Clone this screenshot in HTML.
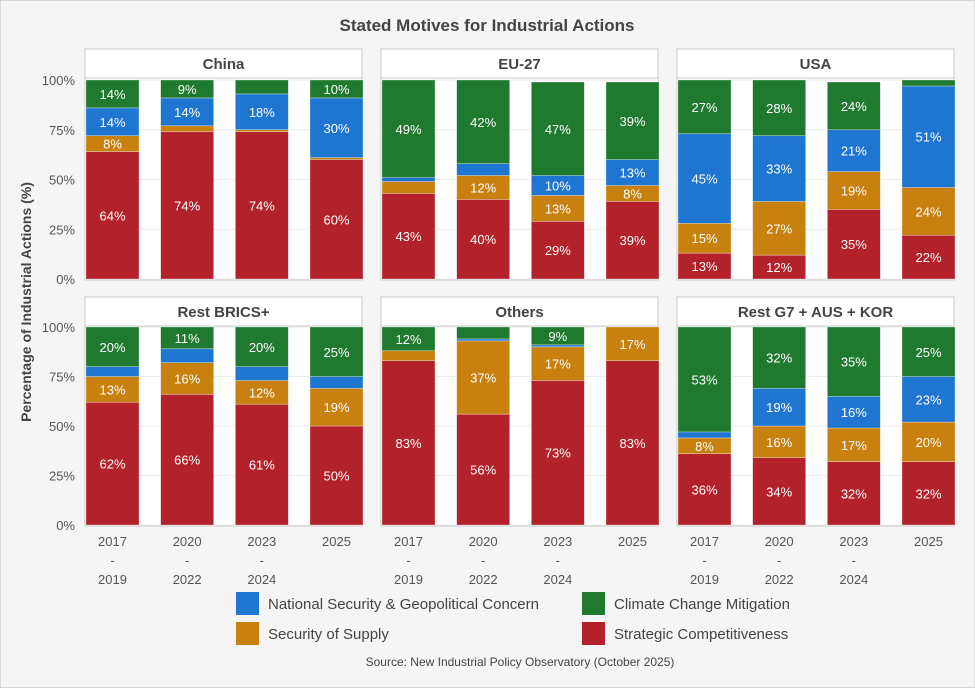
<!DOCTYPE html>
<html><head><meta charset="utf-8"><style>
body{margin:0;background:#f5f5f5;font-family:"Liberation Sans",Arial,sans-serif}
svg{display:block}
</style></head><body>
<svg id="c" width="975" height="688" font-family="Liberation Sans, Arial, sans-serif">
<rect x="0" y="0" width="975" height="688" fill="#f5f5f5" stroke="#bbb"/>
<text x="487" y="31" text-anchor="middle" font-size="17" font-weight="bold" fill="#444">Stated Motives for Industrial Actions</text>
<text transform="translate(31,302) rotate(-90)" text-anchor="middle" font-size="14" font-weight="bold" fill="#444">Percentage of Industrial Actions (%)</text>
<g id="panels"></g>
<g>
<rect x="236" y="592" width="23" height="23" fill="#1f76d0"/>
<text x="268" y="609" font-size="15" fill="#444">National Security &amp; Geopolitical Concern</text>
<rect x="582" y="592" width="23" height="23" fill="#1f7a30"/>
<text x="614" y="609" font-size="15" fill="#444">Climate Change Mitigation</text>
<rect x="236" y="622" width="23" height="23" fill="#c8800f"/>
<text x="268" y="639" font-size="15" fill="#444">Security of Supply</text>
<rect x="582" y="622" width="23" height="23" fill="#b3222b"/>
<text x="614" y="639" font-size="15" fill="#444">Strategic Competitiveness</text>
</g>
<text x="520" y="666" text-anchor="middle" font-size="12" fill="#444">Source: New Industrial Policy Observatory (October 2025)</text>
</svg>
<script>
const regions=["China","EU-27","USA","Rest BRICS+","Others","Rest G7 + AUS + KOR"];
const periods=[["2017","-","2019"],["2020","-","2022"],["2023","-","2024"],["2025"]];
const yTicks=[0,25,50,75,100];
const strategic=[[64,74,74,60],[43,40,29,39],[13,12,35,22],[62,66,61,50],[83,56,73,83],[36,34,32,32]];
const supply=[[8,3,1,1],[6,12,13,8],[15,27,19,24],[13,16,12,19],[5,37,17,17],[8,16,17,20]];
const natsec=[[14,14,18,30],[2,6,10,13],[45,33,21,51],[5,7,7,6],[0,1,1,0],[3,19,16,23]];
const climate=[[14,9,7,10],[49,42,47,39],[27,28,24,3],[20,11,20,25],[12,6,9,0],[53,32,35,25]];
const series=[["strategic",strategic,"#b3222b"],["supply",supply,"#c8800f"],["natsec",natsec,"#1f76d0"],["climate",climate,"#1f7a30"]];
const NS="http://www.w3.org/2000/svg";
const root=document.getElementById("panels");
function mk(t,a,p){const e=document.createElementNS(NS,t);for(const k in a)e.setAttribute(k,a[k]);(p||root).appendChild(e);return e;}
const px=[85,381,677],pw=277;
const rows=[{h:49,top:80,bot:279},{h:297,top:327,bot:525}];
regions.forEach((reg,ri)=>{
  const x0=px[ri%3],r=rows[Math.floor(ri/3)];
  const g=mk("g",{});
  
  
  const y=v=>r.bot-(r.bot-r.top)*v/100;
  const hd=mk("rect",{x:x0,y:r.h,width:pw,height:29,fill:"#fff",stroke:"#ccc"},g);
  
  
  const ht=mk("text",{x:x0+pw/2,y:r.h+20,"text-anchor":"middle","font-size":15,"font-weight":"bold",fill:"#444"},g);ht.textContent=reg;
  
  
  const pb=mk("rect",{x:x0,y:r.h+29,width:pw,height:r.bot-r.h-28,fill:"#fff",stroke:"#ccc"},g);
  
  
  yTicks.forEach(t=>{
    const l=mk("line",{x1:x0,x2:x0+pw,y1:y(t),y2:y(t),stroke:"#ececec"},g);
    
    
    if(ri%3===0){const tt=mk("text",{x:x0-10,y:y(t)+5,"text-anchor":"end","font-size":13,fill:"#555"},g);tt.textContent=t+"%";
      
      }
  });
  const step=(pw-53)/3;
  periods.forEach((p,pi)=>{
    const bx=x0+1+pi*step;let cum=0;
    series.forEach(([nm,arr,col])=>{
      const v=arr[ri][pi];if(v<=0)return;
      const top=Math.min(cum+v,100);
      if(top<=cum)return;
      const b=mk("rect",{x:bx,y:y(top),width:53,height:y(cum)-y(top),fill:col,stroke:"rgba(255,255,255,0.5)","stroke-width":0.6},g);
      
      
      if(v>=8){const lt=mk("text",{x:bx+26.5,y:(y(cum)+y(top))/2+5,"text-anchor":"middle","font-size":13,fill:"#fff"},g);lt.textContent=v+"%";
        
        }
      cum=top;
    });
    if(r.h>200){p.forEach((s,si)=>{const xt=mk("text",{x:bx+26.5,y:r.bot+21+si*19,"text-anchor":"middle","font-size":13,fill:"#555"},g);xt.textContent=s;
      
      });}
  });
});
</script>
</body></html>
